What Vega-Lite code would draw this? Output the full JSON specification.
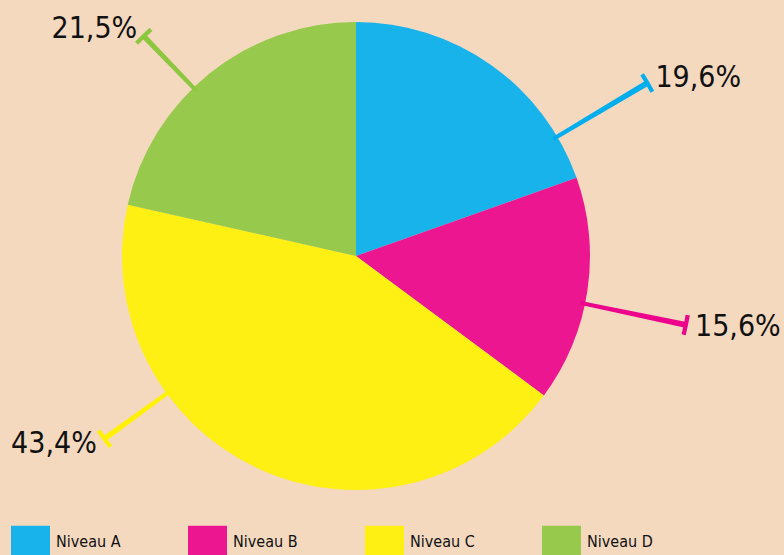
{
  "$schema": "https://vega.github.io/schema/vega-lite/v6.json",
  "width": 712,
  "height": 512,
  "autosize": {"type": "none"},
  "padding": {"left": 0, "top": 0, "right": 72, "bottom": 43},
  "background": "#f4d9bf",
  "config": {"view": {"stroke": null}, "font": "DejaVu Sans Condensed, sans-serif"},
  "datasets": {
    "slices": [
      {"niveau": "Niveau A", "value": 19.6, "idx": 1},
      {"niveau": "Niveau B", "value": 15.6, "idx": 2},
      {"niveau": "Niveau C", "value": 43.4, "idx": 3},
      {"niveau": "Niveau D", "value": 21.5, "idx": 4}
    ],
    "annotations": [
      {"niveau": "Niveau A", "label": "19,6%", "angle": 59.3, "reach": 1.448},
      {"niveau": "Niveau B", "label": "15,6%", "angle": 101.8, "reach": 1.44},
      {"niveau": "Niveau C", "label": "43,4%", "angle": 234.0, "reach": 1.329},
      {"niveau": "Niveau D", "label": "21,5%", "angle": 316.0, "reach": 1.306}
    ]
  },
  "layer": [
    {
      "data": {"name": "slices"},
      "mark": {"type": "arc", "radius": 234, "opacity": 0.9},
      "encoding": {
        "theta": {"field": "value", "type": "quantitative", "stack": true},
        "order": {"field": "idx", "type": "quantitative"},
        "color": {
          "field": "niveau",
          "type": "nominal",
          "scale": {"domain": ["Niveau A", "Niveau B", "Niveau C", "Niveau D"], "range": ["#00aeef", "#ec008c", "#fff200", "#8dc63f"]},
          "legend": {
            "orient": "none",
            "legendX": 11,
            "legendY": 522,
            "direction": "horizontal",
            "title": null,
            "symbolType": "M-1,-0.82H1V0.82H-1Z",
            "symbolSize": 1521,
            "symbolStrokeWidth": 0,
            "symbolOpacity": 0.9,
            "labelFontSize": 16,
            "labelColor": "#111111",
            "labelOffset": 6,
            "columnPadding": 67,
            "padding": 0
          }
        }
      }
    },
    {
      "data": {"name": "annotations"},
      "transform": [
        {"calculate": "datum.angle - 0.5", "as": "a0"},
        {"calculate": "datum.angle + 0.5", "as": "a1"},
        {"calculate": "0.98", "as": "r0"}
      ],
      "mark": {"type": "arc"},
      "encoding": {
        "theta": {"field": "a0", "type": "quantitative", "stack": null, "scale": {"type": "linear", "domain": [0, 360], "range": [0, 6.283185307]}},
        "theta2": {"field": "a1"},
        "radius": {"field": "reach", "type": "quantitative", "scale": {"type": "linear", "zero": true, "domain": [0, 1], "range": [0, 234]}},
        "radius2": {"field": "r0"},
        "color": {"field": "niveau", "type": "nominal"}
      }
    },
    {
      "data": {"name": "annotations"},
      "transform": [
        {"calculate": "10 / (datum.reach * 234) * 180 / PI", "as": "d"},
        {"calculate": "datum.angle - datum.d", "as": "b0"},
        {"calculate": "datum.angle + datum.d", "as": "b1"},
        {"calculate": "datum.reach - 0.009", "as": "rb0"},
        {"calculate": "datum.reach + 0.009", "as": "rb1"}
      ],
      "mark": {"type": "arc"},
      "encoding": {
        "theta": {"field": "b0", "type": "quantitative", "stack": null, "scale": {"type": "linear", "domain": [0, 360], "range": [0, 6.283185307]}},
        "theta2": {"field": "b1"},
        "radius": {"field": "rb1", "type": "quantitative", "scale": {"type": "linear", "zero": true, "domain": [0, 1], "range": [0, 234]}},
        "radius2": {"field": "rb0"},
        "color": {"field": "niveau", "type": "nominal"}
      }
    },
    {
      "data": {"name": "annotations"},
      "transform": [
        {"filter": "datum.angle < 180"},
        {"calculate": "datum.reach + 0.04", "as": "lr"}
      ],
      "mark": {"type": "text", "align": "left", "baseline": "middle", "fontSize": 30, "color": "#111111"},
      "encoding": {
        "theta": {"field": "angle", "type": "quantitative", "stack": null, "scale": {"type": "linear", "domain": [0, 360], "range": [0, 6.283185307]}},
        "radius": {"field": "lr", "type": "quantitative", "scale": {"type": "linear", "zero": true, "domain": [0, 1], "range": [0, 234]}},
        "text": {"field": "label"}
      }
    },
    {
      "data": {"name": "annotations"},
      "transform": [
        {"filter": "datum.angle >= 180"},
        {"calculate": "datum.reach + 0.04", "as": "lr"}
      ],
      "mark": {"type": "text", "align": "right", "baseline": "middle", "fontSize": 30, "color": "#111111"},
      "encoding": {
        "theta": {"field": "angle", "type": "quantitative", "stack": null, "scale": {"type": "linear", "domain": [0, 360], "range": [0, 6.283185307]}},
        "radius": {"field": "lr", "type": "quantitative", "scale": {"type": "linear", "zero": true, "domain": [0, 1], "range": [0, 234]}},
        "text": {"field": "label"}
      }
    }
  ],
  "resolve": {"scale": {"theta": "independent", "radius": "independent"}}
}
